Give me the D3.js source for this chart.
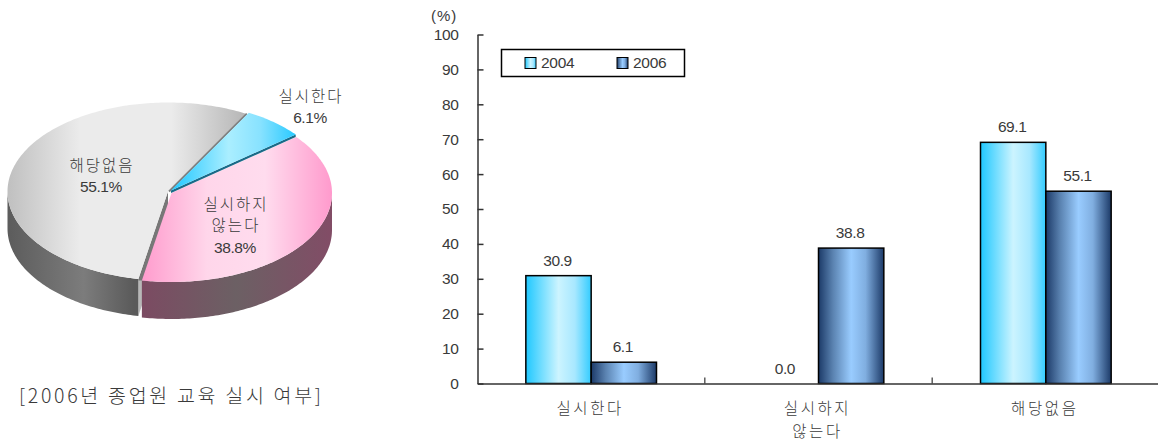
<!DOCTYPE html>
<html><head><meta charset="utf-8">
<script src="https://cdnjs.cloudflare.com/ajax/libs/d3/7.8.5/d3.min.js"></script>
<style>
html,body{margin:0;padding:0;background:#fff}
svg{display:block}
text{font-family:"Liberation Sans",Arial,sans-serif;fill:#3a3a3a}
.ko{font-family:"Noto Sans CJK KR","Noto Sans",sans-serif;font-weight:300}
</style></head><body>
<svg id="c" width="1158" height="441"></svg>
<script>
const categories = ["실시한다", "실시하지\n않는다", "해당없음"];
const years = ["2004", "2006"];
const values2004 = [30.9, 0.0, 69.1];
const values2006 = [6.1, 38.8, 55.1];
const pieValues = [6.1, 38.8, 55.1];
const pieLabels = ["실시한다", "실시하지\n않는다", "해당없음"];
const yTicks = [0,10,20,30,40,50,60,70,80,90,100];
const chartTitle = "[2006년 종업원 교육 실시 여부]";

const svg = d3.select("#c"), defs = svg.append("defs");
function grad(id, stops, x1, x2){
  const g = defs.append("linearGradient").attr("id", id);
  if (x1 !== undefined) g.attr("gradientUnits","userSpaceOnUse").attr("x1",x1).attr("x2",x2).attr("y1",0).attr("y2",0);
  stops.forEach(s => g.append("stop").attr("offset", s[0]).attr("stop-color", s[1]));
}
grad("b04", [[0,"#1fc8ff"],[.5,"#ccf4ff"],[.75,"#a8e8ff"],[1,"#33ccff"]]);
grad("b06", [[0,"#1c3a68"],[.22,"#5a82b0"],[.5,"#99ccff"],[.72,"#80aee0"],[1,"#1c3a68"]]);
grad("pGray", [[0,"#c0c0c0"],[.3,"#ebebeb"],[.68,"#ebebeb"],[1,"#b4b4b4"]], 8, 248);
grad("pPink", [[0,"#ff99cc"],[.35,"#ffd6ea"],[.65,"#ffdcee"],[1,"#ff99cc"]], 139, 333);
grad("pBlue", [[0,"#22c8ff"],[.45,"#aaeeff"],[.7,"#88e2ff"],[1,"#22c8ff"]], 172, 298);
grad("wGray", [[0,"#5c5c5c"],[.6,"#7c7c7c"],[1,"#5a5a5a"]], 8, 134);
grad("wPink", [[0,"#7c4a62"],[.5,"#6c6064"],[1,"#824c66"]], 139, 333);
const cutV = defs.append("linearGradient").attr("id","cutGray").attr("x1",0).attr("x2",0).attr("y1",0).attr("y2",1);
[[0,"#777"],[.71,"#777"],[.72,"#b8b8b8"],[1,"#b8b8b8"]].forEach(s=>cutV.append("stop").attr("offset",s[0]).attr("stop-color",s[1]));

/* ---------- pie ---------- */
const cx = 170, cy = 191.5, rx = 160.5, ry = 89, depth = 37;
const startDeg = 29;
const slices = d3.pie().value(d=>d).sort(null)
  .startAngle(startDeg*Math.PI/180).endAngle((startDeg+360)*Math.PI/180)(pieValues);
const sliceStyle = [
  {top:"url(#pBlue)", wall:"#12607f", cut:"#1a6a88", dx:1, dy:-1},
  {top:"url(#pPink)", wall:"url(#wPink)", cut:"#7c4a62", dx:1.5, dy:1.5},
  {top:"url(#pGray)", wall:"url(#wGray)", cut:"url(#cutGray)", dx:-2, dy:0}
];
const pt = (a,dx,dy,d=0)=>[cx+dx+rx*Math.sin(a), cy+dy-ry*Math.cos(a)+d];
const arcPts = (a0,a1,dx,dy,d=0)=>{
  const n = Math.max(2,Math.ceil((a1-a0)*60));
  return d3.range(n+1).map(i=>pt(a0+(a1-a0)*i/n,dx,dy,d));
};
const line = d3.line();
const gPie = svg.append("g");
function drawSlice(i){
  const s = slices[i], st = sliceStyle[i];
  const apex=[cx+st.dx,cy+st.dy];
  const faces = i===2 ? [s.startAngle] : i===0 ? [s.endAngle] : [];
  faces.forEach(a=>{
    const o = pt(a,st.dx,st.dy);
    const h = i===0 ? 2.5 : depth;
    gPie.append("path").attr("fill",st.cut)
      .attr("d",line([apex,o,[o[0],o[1]+h],[apex[0],apex[1]+h]])+"Z");
  });
  const lo = Math.max(s.startAngle,Math.PI/2), hi = Math.min(s.endAngle,3*Math.PI/2);
  if (hi>lo && i>0){
    const t = arcPts(lo,hi,st.dx,st.dy), b = arcPts(lo,hi,st.dx,st.dy,depth).reverse();
    gPie.append("path").attr("fill",st.wall).attr("d",line(t.concat(b))+"Z");
  }
  gPie.append("path").attr("fill",st.top)
    .attr("d",line([apex].concat(arcPts(s.startAngle,s.endAngle,st.dx,st.dy)))+"Z");
  if (i===2){
    const o = pt(s.endAngle,st.dx+1,st.dy);
    gPie.append("line").attr("x1",apex[0]+1).attr("y1",apex[1]).attr("x2",o[0]).attr("y2",o[1])
      .attr("stroke","#808080").attr("stroke-width",2);
  }
}
[2,1,0].forEach(drawSlice);

const pieLabelPos = [[310,96],[235,204],[101,165]];
pieLabels.forEach((lab,i)=>{
  const lines = lab.split("\n");
  lines.forEach((t,j)=>svg.append("text").attr("class","ko").attr("text-anchor","middle")
    .attr("x",pieLabelPos[i][0]+1).attr("y",pieLabelPos[i][1]+j*21.5+5.5).attr("font-size",15.5).attr("letter-spacing",2).text(t));
  svg.append("text").attr("text-anchor","middle").attr("x",pieLabelPos[i][0])
    .attr("y",pieLabelPos[i][1]+lines.length*21.5+5.5).attr("font-size",15.5).attr("letter-spacing",-0.4)
    .text(pieValues[i].toFixed(1)+"%");
});
svg.append("text").attr("class","ko").attr("x",19).attr("y",403).attr("font-size",19.5)
  .attr("letter-spacing",2.7).text(chartTitle);

/* ---------- bars ---------- */
const x0 = d3.scaleBand().domain(categories).range([477.5,1159.5]);
const x1 = d3.scaleBand().domain(years).range([0,x0.bandwidth()]).paddingInner(0).paddingOuter(0.74);
const y = d3.scaleLinear().domain([0,100]).range([383.5,34.5]);
const axisStyle = g=>{g.selectAll("path,line").attr("stroke","#333").attr("stroke-width",1.5);g.selectAll("text").attr("fill","#3a3a3a");};

svg.append("g").attr("transform","translate(477.5,0)")
  .call(d3.axisLeft(y).tickValues(yTicks).tickSize(-6).tickSizeOuter(0).tickPadding(19))
  .call(g=>g.selectAll("text").attr("font-size",15.5).attr("letter-spacing",-0.4).attr("font-family","Liberation Sans"))
  .call(axisStyle);
svg.append("text").attr("x",431).attr("y",21).attr("font-size",15).attr("letter-spacing",1).text("(%)");

const series = [values2004, values2006];
years.forEach((yr,k)=>{
  svg.append("g").selectAll("rect").data(series[k]).join("rect")
    .attr("x",(d,i)=>x0(categories[i])+x1(yr)).attr("width",x1.bandwidth())
    .attr("y",d=>y(d)).attr("height",d=>y(0)-y(d))
    .attr("fill",k?"url(#b06)":"url(#b04)").attr("stroke","#000").attr("stroke-width",1.5)
    .attr("display",d=>d>0?null:"none");
  svg.append("g").selectAll("text").data(series[k]).join("text")
    .attr("text-anchor","middle").attr("font-size",15.5).attr("letter-spacing",-0.4)
    .attr("x",(d,i)=>x0(categories[i])+x1(yr)+x1.bandwidth()/2-1)
    .attr("y",d=>y(d)-10).text(d=>d.toFixed(1));
});

svg.append("g").attr("transform",`translate(0,${y(0)})`)
  .call(d3.axisBottom(x0).tickValues([]).tickSizeOuter(0))
  .call(axisStyle);
svg.append("g").selectAll("line").data(categories.slice(1)).join("line")
  .attr("x1",d=>x0(d)).attr("x2",d=>x0(d)).attr("y1",y(0)).attr("y2",y(0)-6)
  .attr("stroke","#333").attr("stroke-width",1.2);
categories.forEach(c=>{
  c.split("\n").forEach((t,j)=>svg.append("text").attr("class","ko").attr("text-anchor","middle")
    .attr("x",x0(c)+x0.bandwidth()/2-1).attr("y",414+j*22.5).attr("font-size",15.5).attr("letter-spacing",2.6).text(t));
});

const lg = svg.append("g");
lg.append("rect").attr("x",501.5).attr("y",49.5).attr("width",183).attr("height",27)
  .attr("fill","#fff").attr("stroke","#000").attr("stroke-width",1.5);
const legendX = d3.scalePoint().domain(years).range([525,617]);
years.forEach((yr,k)=>{
  lg.append("rect").attr("x",legendX(yr)).attr("y",57.5).attr("width",11).attr("height",11)
    .attr("fill",k?"url(#b06)":"url(#b04)").attr("stroke","#000").attr("stroke-width",1);
  lg.append("text").attr("x",legendX(yr)+16).attr("y",68).attr("font-size",15.5).attr("letter-spacing",-0.3).text(yr);
});
</script>
</body></html>
